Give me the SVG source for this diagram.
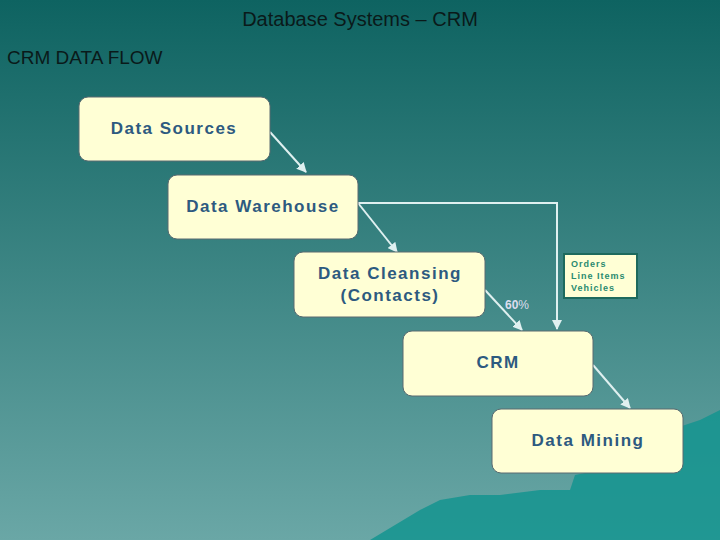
<svg xmlns="http://www.w3.org/2000/svg" width="720" height="540" viewBox="0 0 720 540">
<defs>
<linearGradient id="bg" x1="0" y1="0" x2="0" y2="1"><stop offset="0" stop-color="#0e6361"/><stop offset="1" stop-color="#6aa7a6"/></linearGradient>
<marker id="ah" viewBox="0 0 10 10" refX="9" refY="5" markerWidth="5" markerHeight="5" orient="auto"><path d="M0,0L10,5L0,10z" fill="#dff0f0"/></marker>
<style>
.n{fill:#ffffd5;stroke:#5a6a70;stroke-width:1}
.t{font-family:"Liberation Sans",Arial,sans-serif;font-weight:bold;font-size:17px;fill:#2d5a80;text-anchor:middle;letter-spacing:1.5px}
.c{stroke:#dff0f0;stroke-width:2;fill:none;marker-end:url(#ah)}
.w{font-family:"Liberation Sans",Arial,sans-serif;fill:#0a1a1a}
</style>
</defs>
<rect width="720" height="540" fill="url(#bg)"/>
<path d="M370,540 L420,510 L440,500 L470,495 L500,495 L540,490 L570,490 L575,475 L600,470 L620,460 L640,440 L700,420 L720,410 L720,540 Z" fill="#14948f" opacity="0.85"/>
<text class="w" x="360" y="26" font-size="20" text-anchor="middle">Database Systems – CRM</text>
<text class="w" x="7" y="64" font-size="19">CRM DATA FLOW</text>
<g id="connectors">
<path class="c" d="M270,132 L306,172"/>
<path class="c" d="M358,203 L397,252"/>
<path class="c" d="M358,203 L557,203 L557,329"/>
<path class="c" d="M485,290 L522,330"/>
<path class="c" d="M593,365 L630,408"/>
</g>
<text x="505" y="309" font-family="Liberation Sans,Arial,sans-serif" font-size="12" font-weight="bold" fill="#dde">60<tspan font-weight="normal">%</tspan></text>
<g id="note"><rect x="564" y="254" width="73" height="44" fill="#ffffd5" stroke="#1d6a5d" stroke-width="2"/>
<text font-family="Liberation Sans,Arial,sans-serif" font-size="9" font-weight="bold" fill="#2a8a70" letter-spacing="1"><tspan x="571" y="267">Orders</tspan><tspan x="571" y="279">Line Items</tspan><tspan x="571" y="291">Vehicles</tspan></text></g>
<g id="ds"><rect class="n" x="79" y="97" width="191" height="64" rx="9"/><text class="t" x="174" y="134">Data Sources</text></g>
<g id="dw"><rect class="n" x="168" y="175" width="190" height="64" rx="9"/><text class="t" x="263" y="212">Data Warehouse</text></g>
<g id="dc"><rect class="n" x="294" y="252" width="191" height="65" rx="9"/><text class="t" x="390" y="279">Data Cleansing</text><text class="t" x="390" y="301">(Contacts)</text></g>
<g id="crm"><rect class="n" x="403" y="331" width="190" height="65" rx="9"/><text class="t" x="498" y="368">CRM</text></g>
<g id="dm"><rect class="n" x="492" y="409" width="191" height="64" rx="9"/><text class="t" x="588" y="446">Data Mining</text></g>
</svg>
